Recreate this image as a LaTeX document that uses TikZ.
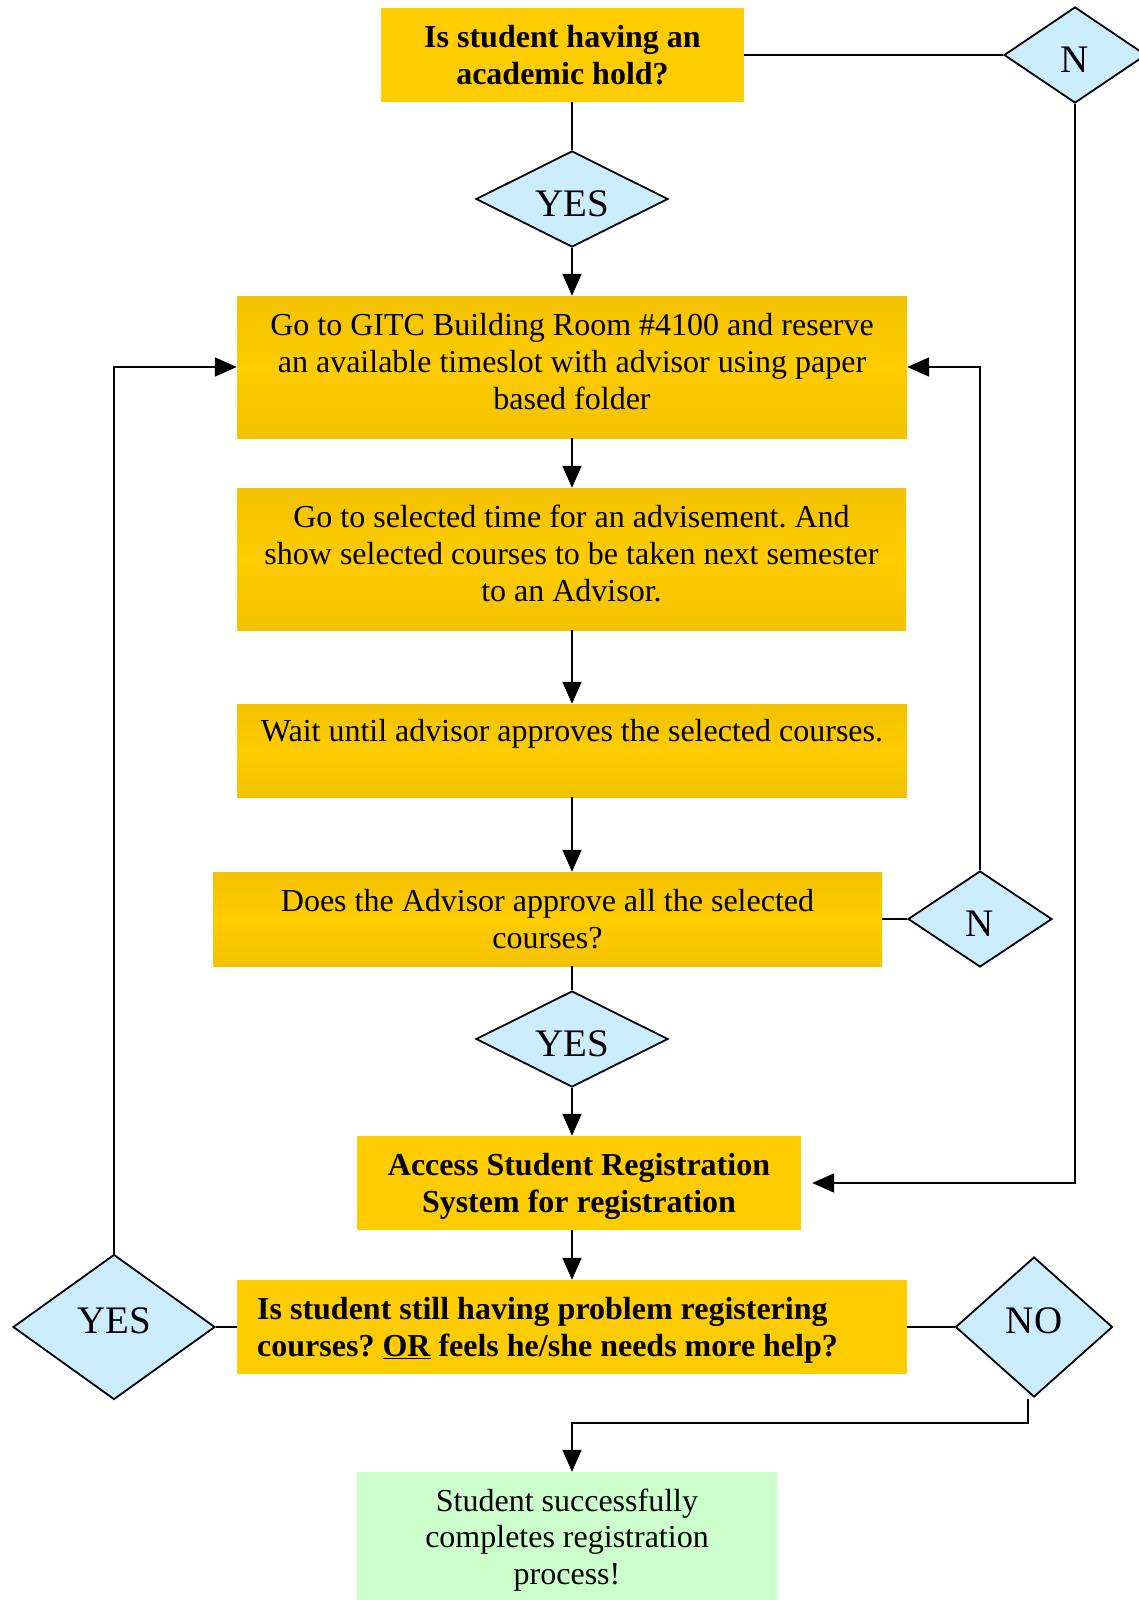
\documentclass[tikz,border=0pt]{standalone}
\usepackage{fontspec}
\setmainfont{Liberation Serif}
\usetikzlibrary{shapes.geometric,arrows.meta}
\frenchspacing
\definecolor{ygold}{HTML}{FFCC00}
\definecolor{ydark}{HTML}{F3C200}
\definecolor{dblue}{HTML}{CCECFF}
\definecolor{fgreen}{HTML}{CCFFCC}
\tikzset{
  solidbox/.style={rectangle, fill=ygold, inner sep=0pt},
  gradbox/.style={rectangle, inner sep=0pt, top color=ydark, bottom color=ydark, middle color=ygold},
  endbox/.style={rectangle, fill=fgreen, inner sep=0pt},
  dec/.style={diamond, draw=black, line width=1.8pt, fill=dblue, aspect=2, inner sep=0pt,
    font=\fontsize{39}{39}\selectfont},
  txt/.style={align=center, inner sep=0pt, font=\fontsize{32}{36.8}\selectfont},
  btxt/.style={align=center, inner sep=0pt, font=\fontsize{32}{37}\selectfont\bfseries},
  conn/.style={line width=2pt},
  arr/.style={line width=2pt, -{Triangle[length=22pt,width=19pt]}}
}
\newcommand{\dn}[1]{\raisebox{-5pt}[\height][\depth]{#1}}
\newcommand{\up}[1]{\raisebox{6pt}[\height][\depth]{#1}}
\newcommand{\thickul}[1]{\underline{#1}}
\begin{document}
\begin{tikzpicture}[x=1pt,y=-1pt]
\useasboundingbox (0,0) rectangle (1139,1600);
\begin{scope}
\clip (0,0) rectangle (1139,1600);
% boxes
\node[solidbox, minimum width=363pt, minimum height=94pt] (q1) at (562.5,55) {};
\node[btxt] (tq1) at (562.5,55) {Is student having an\\academic hold?};
\node[dec, minimum width=142pt, minimum height=96pt] (n1) at (1075,55) {\dn{N}};
\node[dec, minimum width=192pt, minimum height=96pt] (y1) at (572,199) {\dn{YES}};

\node[gradbox, minimum width=670pt, minimum height=142pt] (b2) at (572,367) {};
\node[txt] (tb2) at (572,361.5) {Go to GITC Building Room \#4100 and reserve\\an available timeslot with advisor using paper\\based folder};

\node[gradbox, minimum width=669pt, minimum height=142pt] (b3) at (571.5,559) {};
\node[txt] (tb3) at (571.5,553.5) {Go to selected time for an advisement. And\\show selected courses to be taken next semester\\to an Advisor.};

\node[gradbox, minimum width=670pt, minimum height=93pt] (b4) at (572,750.5) {};
\node[txt] (tb4) at (572,734) {Wait until advisor approves the selected courses.};

\node[gradbox, minimum width=669pt, minimum height=94pt] (b5) at (547.5,919) {};
\node[txt] (tb5) at (547.5,919) {Does the Advisor approve all the selected\\courses?};

\node[dec, minimum width=144pt, minimum height=96pt] (n2) at (980,919) {\dn{N}};
\node[dec, minimum width=192pt, minimum height=96pt] (y2) at (572,1039) {\dn{YES}};

\node[solidbox, minimum width=444pt, minimum height=94pt] (b6) at (579,1183) {};
\node[btxt] (tb6) at (579,1186) {Access Student Registration\\System for registration};

\node[solidbox, minimum width=670pt, minimum height=94pt] (b7) at (572,1327) {};
\node[btxt, align=left, anchor=west] (tb7) at (257,1330) {Is student still having problem registering\\courses? \thickul{OR} feels he/she needs more help?};

\node[dec, minimum width=202pt, minimum height=145pt] (y3) at (114,1327) {\up{YES}};
\node[dec, minimum width=157pt, minimum height=140pt] (no) at (1034,1327) {\up{NO}};

\node[endbox, minimum width=420pt, minimum height=150pt] (fin) at (567,1547) {};
\node[txt] (tfin) at (567,1540) {Student successfully\\completes registration\\process!};

% connectors
\draw[conn] (q1.south -| y1.north) -- (y1.north);
\draw[arr] (y1.south) -- (y1.south |- b2.north);
\draw[conn] (q1.east) -- (n1.west);
\draw[arr, shorten >=11pt] (n1.south) |- (b6.east);
\draw[arr] (b2.south) -- (b2.south |- b3.north);
\draw[arr] (b2.south |- b3.south) -- (b2.south |- b4.north);
\draw[arr] (b4.south) -- (b4.south |- b5.north);
\draw[conn] (b5.east) -- (n2.west);
\draw[arr] (n2.north) |- (b2.east);
\draw[conn] (b5.south -| y2.north) -- (y2.north);
\draw[arr] (y2.south) -- (y2.south |- b6.north);
\draw[arr] (b6.south -| b7.north) -- (b7.north);
\draw[conn] (b7.west) -- (y3.east);
\draw[arr] (y3.north) |- (b2.west);
\draw[conn] (b7.east) -- (no.west);
\coordinate (nb) at (1028,1399);
\coordinate (c1) at (572,1423);
\draw[arr] (nb) |- (c1) -- (c1 |- fin.north);
\end{scope}
\end{tikzpicture}
\end{document}
